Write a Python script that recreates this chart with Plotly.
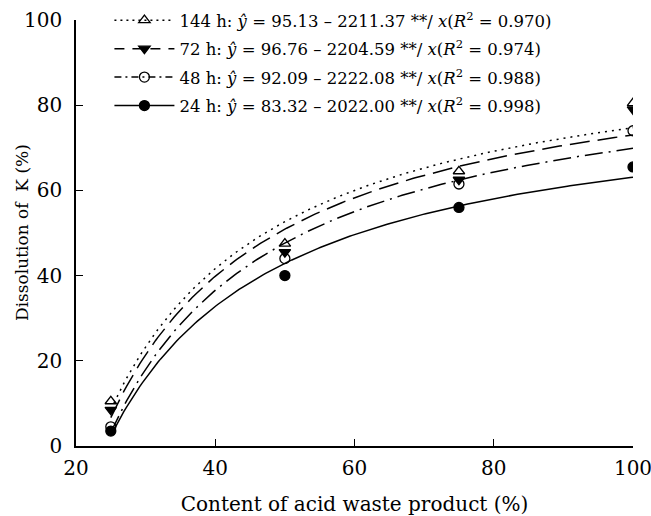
import numpy as np
import plotly.graph_objects as go

# Measured points
x_content = [25, 50, 75, 100]
y_144h = [10.5, 47.5, 64.5, 80.5]
y_72h = [8.5, 45.5, 62.5, 79.0]
y_48h = [4.5, 44.0, 61.5, 74.0]
y_24h = [3.5, 40.0, 56.0, 65.5]

# Fitted curves y = a - b/x (as drawn, top to bottom)
curve_a = [96.76, 95.13, 92.09, 83.32]
curve_b = [2204.59, 2211.37, 2222.08, 2022.00]
curve_dash = ["2px,5px", "20px,8px", "18px,6px,2px,6px", "solid"]

legend_labels = [
    "144 h: <i>y\u0302</i> = 95.13 \u2013 2211.37 **/ <i>x</i>(<i>R</i><sup>2</sup> = 0.970)",
    "72 h: <i>y\u0302</i> = 96.76 \u2013 2204.59 **/ <i>x</i>(<i>R</i><sup>2</sup> = 0.974)",
    "48 h: <i>y\u0302</i> = 92.09 \u2013 2222.08 **/ <i>x</i>(<i>R</i><sup>2</sup> = 0.988)",
    "24 h: <i>y\u0302</i> = 83.32 \u2013 2022.00 **/ <i>x</i>(<i>R</i><sup>2</sup> = 0.998)",
]
series = [y_144h, y_72h, y_48h, y_24h]
symbols = ["triangle-up-open", "triangle-down", "circle-open", "circle"]
legend_dash = ["2px,4px", "10px,8px", "7px,4px,2px,4px", "solid"]

x_tick_vals = [20, 40, 60, 80, 100]
y_tick_vals = [0, 20, 40, 60, 80, 100]

fig = go.Figure()
xs = np.linspace(25, 100, 200)
for a, b, d in zip(curve_a, curve_b, curve_dash):
    fig.add_trace(go.Scatter(x=xs, y=a - b / xs, mode="lines",
                             line=dict(color="black", width=1.5, dash=d),
                             showlegend=False, hoverinfo="skip"))
for ys, sym in zip(series, symbols):
    fig.add_trace(go.Scatter(x=x_content, y=ys, mode="markers",
                             marker=dict(symbol=sym, size=10, color="black",
                                         line=dict(color="black", width=1.3)),
                             showlegend=False))
for i, (lab, sym, d) in enumerate(zip(legend_labels, symbols, legend_dash)):
    fig.add_trace(go.Scatter(x=[None], y=[None], mode="lines+markers", name=lab,
                             legendgroup=f"g{i}",
                             line=dict(color="black", width=1.5, dash=d),
                             marker=dict(symbol=sym, size=10, color="black",
                                         line=dict(color="black", width=1.3))))

font_family = "DejaVu Serif"
fig.update_layout(
    width=651, height=516,
    margin=dict(l=76, r=18, t=20, b=70, autoexpand=False),
    plot_bgcolor="white", paper_bgcolor="white",
    font=dict(family=font_family, size=17, color="black"),
    legend=dict(x=0.06, y=1.04, xanchor="left", yanchor="top",
                bgcolor="rgba(0,0,0,0)", font=dict(size=16.5, family=font_family),
                itemwidth=60, traceorder="grouped", tracegroupgap=4),
    xaxis=dict(range=[20, 100], tickvals=x_tick_vals, ticks="inside", ticklen=7,
               showline=True, linecolor="black", linewidth=1.5, tickcolor="black",
               tickwidth=1.2, showgrid=False, zeroline=False, mirror=False,
               ticklabeloverflow="allow", tickfont=dict(size=20), ticklabelstandoff=3,
               title=dict(text="Content of acid waste product (%)", standoff=19)),
    yaxis=dict(range=[0, 100], tickvals=y_tick_vals, ticks="inside", ticklen=7,
               showline=True, linecolor="black", linewidth=1.5, tickcolor="black",
               tickwidth=1.2, showgrid=False, zeroline=False, mirror=False,
               ticklabeloverflow="allow", tickfont=dict(size=20), ticklabelstandoff=8),
    annotations=[dict(text="Dissolution of  K (%)", xref="paper", yref="paper",
                      x=(22 - 76) / 557, y=0.5, xanchor="center", yanchor="middle",
                      textangle=-90, showarrow=False, font=dict(size=17))],
)
fig.write_html("out.html", config={"displayModeBar": False})
with open("out.html", encoding="utf-8") as f:
    html = f.read()
html = html.replace("<body>", '<body style="margin:0;padding:0">', 1)
with open("out.html", "w", encoding="utf-8") as f:
    f.write(html)
